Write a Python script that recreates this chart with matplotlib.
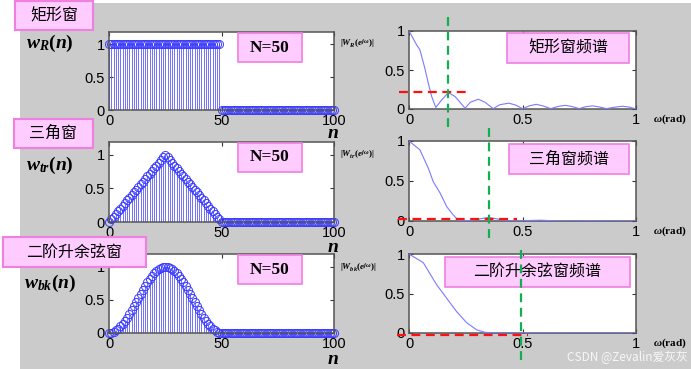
import numpy as np
import matplotlib
matplotlib.use('Agg')
import matplotlib.pyplot as plt
from matplotlib.patches import Rectangle

plt.rcParams['font.family'] = ['Liberation Sans', 'Noto Sans CJK SC']
plt.rcParams['mathtext.fontset'] = 'custom'
plt.rcParams['mathtext.it'] = 'Liberation Serif:italic:bold'
plt.rcParams['mathtext.rm'] = 'Liberation Serif:bold'
plt.rcParams['mathtext.bf'] = 'Liberation Serif:bold'

# ---- time-domain windows (n = 0..100) ----
n_index = np.arange(101)
rect_w = [1.0] * 50 + [0.0] * 51
tri_w = [0.00, 0.04, 0.08, 0.12, 0.16, 0.20, 0.24, 0.28, 0.32, 0.36, 0.40, 0.44, 0.48,
         0.52, 0.56, 0.60, 0.64, 0.68, 0.72, 0.76, 0.80, 0.84, 0.88, 0.92, 0.96, 1.00,
         0.96, 0.92, 0.88, 0.84, 0.80, 0.76, 0.72, 0.68, 0.64, 0.60, 0.56, 0.52, 0.48,
         0.44, 0.40, 0.36, 0.32, 0.28, 0.24, 0.20, 0.16, 0.12, 0.08, 0.04, 0.00] + [0.0] * 50
hann_w = [0.00, 0.00, 0.02, 0.04, 0.06, 0.10, 0.14, 0.18, 0.23, 0.29, 0.35, 0.41, 0.47,
          0.53, 0.59, 0.65, 0.71, 0.77, 0.82, 0.86, 0.90, 0.94, 0.96, 0.98, 1.00, 1.00,
          1.00, 0.98, 0.96, 0.94, 0.90, 0.86, 0.82, 0.77, 0.71, 0.65, 0.59, 0.53, 0.47,
          0.41, 0.35, 0.29, 0.23, 0.18, 0.14, 0.10, 0.06, 0.04, 0.02, 0.00, 0.00] + [0.0] * 50

# ---- magnitude spectra ----
rect_om = [0, 0.034, 0.048, 0.07, 0.085, 0.10, 0.118, 0.144, 0.173, 0.203, 0.247, 0.27,
           0.305, 0.335, 0.371, 0.40, 0.44, 0.47, 0.50, 0.53, 0.56, 0.59, 0.624, 0.66,
           0.69, 0.72, 0.75, 0.78, 0.81, 0.84, 0.87, 0.91, 0.94, 0.97, 1.0]
rect_mag = [1.0, 0.82, 0.76, 0.52, 0.33, 0.16, 0.02, 0.115, 0.21, 0.16, 0.01, 0.086,
            0.125, 0.086, 0.005, 0.055, 0.075, 0.05, 0.005, 0.04, 0.06, 0.04, 0.005, 0.035,
            0.047, 0.03, 0.005, 0.03, 0.04, 0.025, 0.005, 0.025, 0.035, 0.025, 0.0]
tri_om = [0, 0.048, 0.085, 0.107, 0.137, 0.166, 0.195, 0.217, 0.25, 0.30, 0.35, 0.40,
          0.45, 0.50, 0.55, 0.58, 0.62, 0.70, 0.80, 0.90, 1.0]
tri_mag = [1.0, 0.89, 0.66, 0.49, 0.35, 0.18, 0.075, 0.01, 0.0, 0.02, 0.045, 0.02,
           0.0, 0.003, 0.008, 0.01, 0.005, 0.0, 0.003, 0.0, 0.0]
hann_om = [0, 0.063, 0.122, 0.166, 0.21, 0.254, 0.298, 0.335, 0.40, 0.5, 0.6, 0.7, 0.8, 0.9, 1.0]
hann_mag = [1.0, 0.89, 0.61, 0.44, 0.27, 0.13, 0.04, 0.008, 0.003, 0.002, 0.001, 0.001, 0.0, 0.0, 0.0]

# markers: sidelobe level line and main-lobe width line
red_level = [0.218, 0.025, -0.02]
red_span = [(-0.045, 0.26), (-0.047, 0.474), (-0.055, 0.525)]
green_pos = [0.17, 0.352, 0.493]
green_span = [(-0.23, 1.19), (-0.21, 1.18), (-0.34, 1.06)]

win_names = ['矩形窗', '三角窗', '二阶升余弦窗']
spec_names = ['矩形窗频谱', '三角窗频谱', '二阶升余弦窗频谱']
w_labels = [r'$w_R(n)$', r'$w_{tr}(n)$', r'$w_{bk}(n)$']
W_labels = [r'$|W_R(e^{j\omega})|$', r'$|W_{tr}(e^{j\omega})|$', r'$|W_{bk}(e^{j\omega})|$']

W, H = 691, 369
fig = plt.figure(figsize=(W / 100, H / 100), dpi=100)


def fx(x):
    return x / W


def fy(y):
    return 1 - y / H


def px_axes(x0, y0, x1, y1):
    return fig.add_axes([fx(x0), fy(y1), fx(x1) - fx(x0), fy(y0) - fy(y1)])


def pink_box(parent, x0, y0, x1, y1, label, z=3, **kw):
    r = Rectangle((fx(x0), fy(y1)), fx(x1) - fx(x0), fy(y0) - fy(y1), transform=fig.transFigure,
                  fc='#ffccff', ec='#f07fe0', lw=1.2, clip_on=False, zorder=z)
    parent.add_artist(r)
    parent.text((fx(x0) + fx(x1)) / 2, (fy(y0) + fy(y1)) / 2, label, transform=fig.transFigure,
                ha='center', va='center', zorder=z + 0.5, clip_on=False, **kw)


# gray slide background
fig.add_artist(Rectangle((fx(20), 0), 1 - fx(20), fy(3), transform=fig.transFigure,
                         fc='#cbcbcb', ec='none', zorder=-10))

left_rows = [(32, 110), (142, 222), (254, 333)]
right_rows = [(31, 109), (141, 221), (254, 333)]
w_label_y = [43, 165, 283]
n_label_y = [134, 247, 359]
windows = [rect_w, tri_w, hann_w]
spectra = [(rect_om, rect_mag), (tri_om, tri_mag), (hann_om, hann_mag)]
title_boxes = [(15, 1, 93, 30), (14, 119, 93, 148), (3, 237, 146, 267)]
spec_boxes = [(507, 33, 629, 63), (509, 144, 629, 174), (445, 257, 630, 287)]


def style_axes(ax):
    ax.set_facecolor('white')
    for s in ax.spines.values():
        s.set_color('#555555')
        s.set_linewidth(1.1)
    ax.tick_params(direction='in', length=3, width=0.8, color='#333333',
                   top=True, right=True, labelsize=10.5, pad=3)


for i in range(3):
    # ---- left: window in time domain ----
    t0, t1 = left_rows[i]
    ax = px_axes(109, t0, 334, t1)
    style_axes(ax)
    ml, sl, bl = ax.stem(n_index, windows[i], linefmt='-', markerfmt='o', basefmt=' ')
    plt.setp(sl, color='#5a5aff', linewidth=0.6)
    ml.set_markerfacecolor('none')
    ml.set_markeredgecolor('#3c3cff')
    ml.set_markeredgewidth(0.7)
    ml.set_markersize(5.8)
    ml.set_clip_on(False)
    bl.set_visible(False)
    ax.set_xlim(0, 100)
    ax.set_ylim(0, 1.19)
    ax.set_xticks([0, 50, 100])
    ax.set_yticks([0, 0.5, 1])
    ax.set_yticklabels(['0', '0.5', '1'])
    pink_box(ax, 238, t0 + 1, 302, t0 + 30, 'N=50', z=6,
             fontfamily='Liberation Serif', fontweight='bold', fontsize=12.5)
    fig.text(fx(50), fy(w_label_y[i]), w_labels[i], fontsize=14, ha='center', va='center')
    fig.text(fx(333), fy(n_label_y[i]), r'$n$', fontsize=14, ha='center', va='center')

    # ---- right: magnitude spectrum ----
    r0, r1 = right_rows[i]
    ax2 = px_axes(409, r0, 636, r1)
    style_axes(ax2)
    om, mag = spectra[i]
    ax2.plot(om, mag, color='#7a7aff', lw=0.8, zorder=4)
    ax2.plot(red_span[i], [red_level[i], red_level[i]], color='#ff1010', lw=1.6,
             ls=(0, (4, 2.5)), clip_on=False, zorder=6)
    ax2.plot([green_pos[i], green_pos[i]], green_span[i], color='#10b050', lw=1.6,
             ls=(0, (4, 2.5)), clip_on=False, zorder=7)
    ax2.set_xlim(0, 1)
    ax2.set_ylim(0, 1)
    ax2.set_xticks([0, 0.5, 1])
    ax2.set_xticklabels(['0', '0.5', '1'])
    ax2.set_yticks([0, 0.5, 1])
    ax2.set_yticklabels(['0', '0.5', '1'])
    pink_box(ax2, *spec_boxes[i], spec_names[i], z=2,
             fontfamily=['Noto Sans CJK SC'], fontsize=11.5)
    fig.text(fx(340), fy(r0 + 13), W_labels[i], fontsize=6.5, ha='left', va='center')
    fig.text(fx(653), fy(r1 + 10), r'$\omega$(rad)', fontsize=8, ha='left', va='center',
             fontfamily='Liberation Serif', fontweight='bold')

    # window name box (on top of everything)
    bx = title_boxes[i]
    r = Rectangle((fx(bx[0]), fy(bx[3])), fx(bx[2]) - fx(bx[0]), fy(bx[1]) - fy(bx[3]),
                  transform=fig.transFigure, fc='#ffccff', ec='#f07fe0', lw=1.5, zorder=5)
    fig.add_artist(r)
    fig.text((fx(bx[0]) + fx(bx[2])) / 2, (fy(bx[1]) + fy(bx[3])) / 2, win_names[i],
             ha='center', va='center', fontsize=11.5, fontfamily=['Noto Sans CJK SC'], zorder=6)

fig.text(fx(688), fy(357), 'CSDN @Zevalin爱灰灰', ha='right', va='center', fontsize=8.5,
         color='white', alpha=0.85, fontfamily=['Noto Sans CJK SC', 'DejaVu Sans'])

fig.savefig('out.png', dpi=100)
